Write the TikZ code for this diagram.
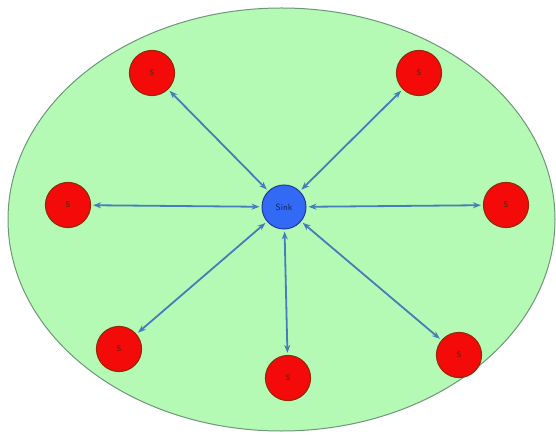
\documentclass[tikz,border=0pt]{standalone}
\usepackage{tikz}
\usetikzlibrary{arrows.meta}
\definecolor{fieldgreen}{RGB}{180,250,180}
\definecolor{fieldedge}{RGB}{110,150,120}
\definecolor{nodered}{RGB}{245,10,10}
\definecolor{noderim}{RGB}{150,40,10}
\definecolor{sinkblue}{RGB}{50,105,245}
\definecolor{sinkrim}{RGB}{30,60,150}
\definecolor{linkblue}{RGB}{70,125,185}

\tikzset{
  sensor/.style={circle,fill=nodered,draw=noderim,line width=1.2pt,minimum size=45pt,inner sep=0pt,
    font=\fontsize{8}{9}\selectfont\sffamily\bfseries,text=noderim!80!black},
  sinknode/.style={circle,fill=sinkblue,draw=sinkrim,line width=1pt,minimum size=44pt,inner sep=0pt,
    font=\fontsize{9}{10}\selectfont\sffamily,text=sinkrim!60!black},
  link/.style={linkblue,line width=1.8pt,{Stealth[length=8pt,width=6pt]}-{Stealth[length=8pt,width=6pt]},
    shorten <=2pt,shorten >=2pt}
}

\begin{document}
\begin{tikzpicture}[x=1pt,y=-1pt]
  \useasboundingbox (0,0) rectangle (556,435);
  % sensor field
  \draw[fill=fieldgreen,draw=fieldedge,line width=1pt] (281.5,219.5) ellipse [x radius=273.5,y radius=211.5];
  \node[sinknode] (sink) at (284,207) {Sink};
  \foreach \n/\x/\y in {1/152/73,2/419/73,3/68/205,4/506/205,5/119/349,6/288/378,7/459/355}{
    \node[sensor] (s\n) at (\x,\y) {S};
    \draw[link] (sink) -- (s\n);
  }
\end{tikzpicture}
\end{document}
